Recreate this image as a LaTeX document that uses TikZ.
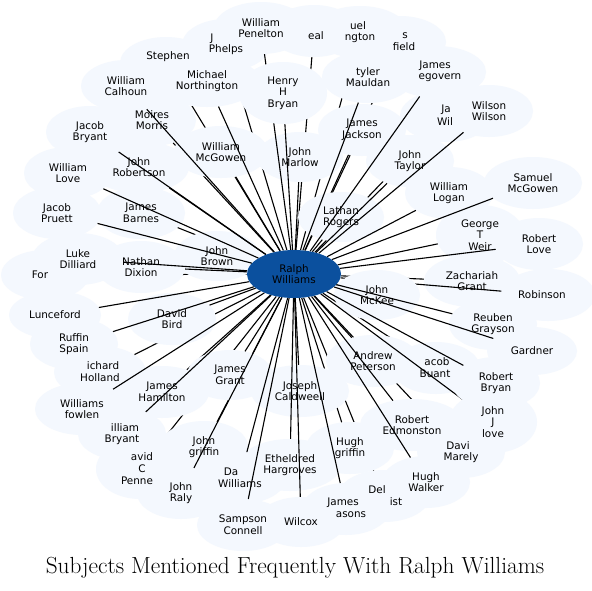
\documentclass[tikz,border=0pt]{standalone}
\usepackage{fontspec}
\newfontfamily\labelfont{DejaVu Sans}
\usetikzlibrary{shapes.geometric}
\definecolor{cloudc}{RGB}{244,248,254}
\definecolor{hubc}{RGB}{11,80,158}
\begin{document}
\begin{tikzpicture}[x=1pt,y=-1pt,
  cloudnode/.style={ellipse, fill=cloudc, draw=none, inner sep=0pt},
  lbl/.style={align=center, font=\labelfont\fontsize{10.4}{11.7}\selectfont, inner sep=0pt, text=black},
  link/.style={draw=black, line width=1.1pt},
  hub/.style={ellipse, minimum width=94pt, minimum height=48pt, inner sep=0pt, align=center, font=\labelfont\fontsize{10.4}{11.7}\selectfont}]
\useasboundingbox[fill=white] (0,0) rectangle (592,590);
\node[hub] (c) at (294,274) {};
\foreach \n/\x/\y/\w/\h in {
 ford/45/275/88/50, stephen/166/63/92/52, phelps/226/45/88/52, neal/314/31/88/52,
 wellington/360/32/96/52, field/400/42/92/52, jawil/446/116/92/52, holland/100/372/92/52,
 buant/436/368/88/52, penne/140/469/88/60, delist/384/496/92/52, marely/461/452/88/52,
 morris/152/120/88/52, barnes/141/213/88/52, jackson/362/130/88/52, hamilton/162/392/94/52,
 jgriffin/204/447/88/52, hgriffin/350/448/88/52, caldweell/300/391/98/52, etheldred/290/465/102/52,
 weir/480/235/88/60, zgrant/472/281/96/52, robinson/548/295/94/52, brown/217/256/86/50,
 dixion/141/267/88/52, rogers/341/217/86/50, mckee/377/295/86/50, marlow/300/157/86/50,
 mcgowen/221/152/94/52, jgrant/230/375/86/50, bird/172/319/88/52, robertson/139/167/100/52,
 taylor/410/161/88/52, logan/449/193/88/52, peterson/373/361/94/52, dawilliams/240/478/92/52,
 pruett/57/213/88/52, dilliard/78/259/92/52, lunceford/55/315/92/48, spain/74/344/88/52,
 wbryant/122/434/88/52, fowlen/82/409/94/52, raly/181/493/88/52, northington/207/81/104/52,
 penelton/261/28/94/52, henry/283/93/88/62, mauldan/368/77/92/52, megovern/437/72/98/52,
 wilson/489/111/88/52, calhoun/126/86/90/52, jbryant/90/132/88/52, wlove/68/173/88/52,
 smcgowen/533/183/98/52, rlove/539/244/88/52, reuben/493/324/88/52, gardner/532/351/90/48,
 edmonston/412/425/104/52, jjlove/493/422/88/62, rbryan/496/383/88/52, walker/426/482/88/52,
 masons/346/509/88/52, sampson/243/525/92/52, wilcox/301/522/88/50}{
  \node[cloudnode, minimum width=\w pt, minimum height=\h pt] (\n) at (\x,\y) {};
  \draw[link] (c) -- (\n);
}
\foreach \n/\x/\y/\txt in {
 ford-t/40/275/{For}, stephen-t/168/57/{Stephen}, phelps-a/212/39/{J}, phelps-b/226/50/{Phelps},
 neal-t/316/36/{eal}, wellington-a/358/26/{uel}, wellington-b/360/38/{ngton},
 field-a/405/36/{s}, field-b/404/47/{field}, jawil-a/446/110/{Ja}, jawil-b/445/122/{Wil},
 holland-a/103/366/{ichard}, holland-b/100/378/{Holland}, buant-a/437/362/{acob}, buant-b/435/374/{Buant},
 penne-a/142/457/{avid}, penne-b/142/469/{C}, penne-c/137/481/{Penne},
 delist-a/377/490/{Del}, delist-b/396/502/{ist}, marely-a/458/446/{Davi}, marely-b/461/458/{Marely},
 morris-t/152/120/{Moires\\Morris}, barnes-t/141/213/{James\\Barnes}, jackson-t/362/130/{James\\Jackson},
 hamilton-t/162/392/{James\\Hamilton}, jgriffin-t/204/447/{John\\griffin}, hgriffin-t/350/448/{Hugh\\griffin},
 caldweell-t/300/391/{Joseph\\Caldweell}, etheldred-t/290/465/{Etheldred\\Hargroves},
 weir-t/480/235/{George\\T\\Weir}, zgrant-t/472/281/{Zachariah\\Grant}, robinson-t/542/295/{Robinson},
 brown-t/217/256/{John\\Brown}, dixion-t/141/267/{Nathan\\Dixion}, rogers-t/341/217/{Lathan\\Rogers},
 mckee-t/377/295/{John\\McKee}, marlow-t/300/157/{John\\Marlow}, mcgowen-t/221/152/{William\\McGowen},
 jgrant-t/230/375/{James\\Grant}, bird-t/172/319/{David\\Bird}, robertson-t/139/167/{John\\Robertson},
 taylor-t/410/161/{John\\Taylor}, logan-t/449/193/{William\\Logan}, peterson-t/373/361/{Andrew\\Peterson},
 dawilliams-a/231/472/{Da}, dawilliams-b/240/484/{Williams}, pruett-t/57/213/{Jacob\\Pruett},
 dilliard-t/78/259/{Luke\\Dilliard}, lunceford-t/55/315/{Lunceford}, spain-t/74/344/{Ruffin\\Spain},
 wbryant-a/125/428/{illiam}, wbryant-b/122/440/{Bryant}, fowlen-t/82/409/{Williams\\fowlen},
 raly-t/181/493/{John\\Raly}, northington-t/207/81/{Michael\\Northington}, penelton-t/261/28/{William\\Penelton},
 henry-t/283/93/{Henry\\H\\Bryan}, mauldan-t/368/77/{tyler\\Mauldan}, megovern-a/435/66/{James}, megovern-b/440/78/{egovern},
 wilson-t/489/111/{Wilson\\Wilson}, calhoun-t/126/86/{William\\Calhoun}, jbryant-t/90/132/{Jacob\\Bryant},
 wlove-t/68/173/{William\\Love}, smcgowen-t/533/183/{Samuel\\McGowen}, rlove-t/539/244/{Robert\\Love},
 reuben-t/493/324/{Reuben\\Grayson}, gardner-t/532/351/{Gardner}, edmonston-t/412/425/{Robert\\Edmonston},
 jjlove-t/493/422/{John\\J\\love}, rbryan-t/496/383/{Robert\\Bryan}, walker-t/426/482/{Hugh\\Walker},
 masons-a/343/503/{James}, masons-b/351/515/{asons}, sampson-t/243/525/{Sampson\\Connell}, wilcox-t/301/522/{Wilcox}}{
  \node[lbl] (\n) at (\x,\y) {\txt};
}
\node[hub, fill=hubc] (hubnode) at (c) {Ralph\\Williams};
\node[font=\fontsize{23.3}{26}\selectfont, inner sep=0pt] (title) at (295,568) {Subjects Mentioned Frequently With Ralph Williams};
\end{tikzpicture}
\end{document}
